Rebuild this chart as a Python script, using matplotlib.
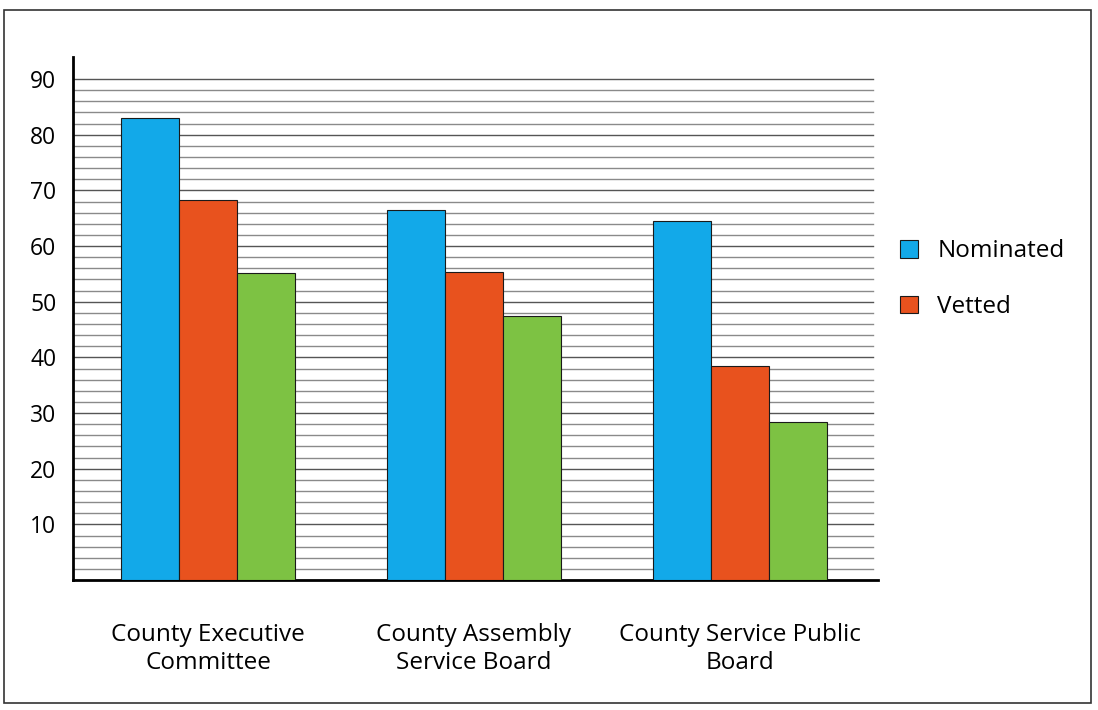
import matplotlib.pyplot as plt
import matplotlib.patches as patches
import numpy as np

plt.rcParams['font.family'] = ['Open Sans', 'DejaVu Sans']

categories = ['County Executive\nCommittee', 'County Assembly\nService Board', 'County Service Public\nBoard']
nominated = [83, 66.5, 64.5]
vetted = [68.3, 55.3, 38.5]
third = [55.2, 47.5, 28.4]
y_ticks = [10, 20, 30, 40, 50, 60, 70, 80, 90]

color_list = ['#12A9E9', '#E8521E', '#7DC243']

fig = plt.figure(figsize=(10.98, 7.10), dpi=100)
ax = fig.add_axes([0.0665, 0.183, 0.733, 0.737])

# grid lines every 2 units, darker at the tens
for yv in range(2, 92, 2):
    c = '#555555' if yv % 10 == 0 else '#8a8a8a'
    ax.axhline(yv, xmin=0, xmax=0.994, color=c, lw=1.0, zorder=1)

x = np.arange(len(categories))
width = 0.218
ax.bar(x - width, nominated, width=width, color=color_list[0], edgecolor='#1a1a1a', lw=0.8, zorder=3, label='Nominated')
ax.bar(x, vetted, width=width, color=color_list[1], edgecolor='#1a1a1a', lw=0.8, zorder=3, label='Vetted')
ax.bar(x + width, third, width=width, color=color_list[2], edgecolor='#1a1a1a', lw=0.8, zorder=3)

ax.set_xlim(-0.508, 2.52)
ax.set_ylim(0, 94)
ax.set_yticks(y_ticks)
ax.tick_params(axis='y', length=0, labelsize=16.5, pad=12)
ax.set_xticks(x)
ax.set_xticklabels(categories, fontsize=17.5, linespacing=1.2)
ax.tick_params(axis='x', length=0, pad=31)

for s in ['top', 'right']:
    ax.spines[s].set_visible(False)
ax.spines['left'].set_linewidth(2)
ax.spines['bottom'].set_linewidth(2)

ax.legend(loc='center left', bbox_to_anchor=(1.0, 0.575), frameon=False, fontsize=17.5,
          handlelength=0.75, handleheight=0.75, labelspacing=1.3, handletextpad=0.8)

fig.patches.append(patches.Rectangle((0.004, 0.01), 0.99, 0.976, transform=fig.transFigure,
                                     fill=False, edgecolor='#333333', lw=1.2))

fig.savefig('out.png', dpi=100)
